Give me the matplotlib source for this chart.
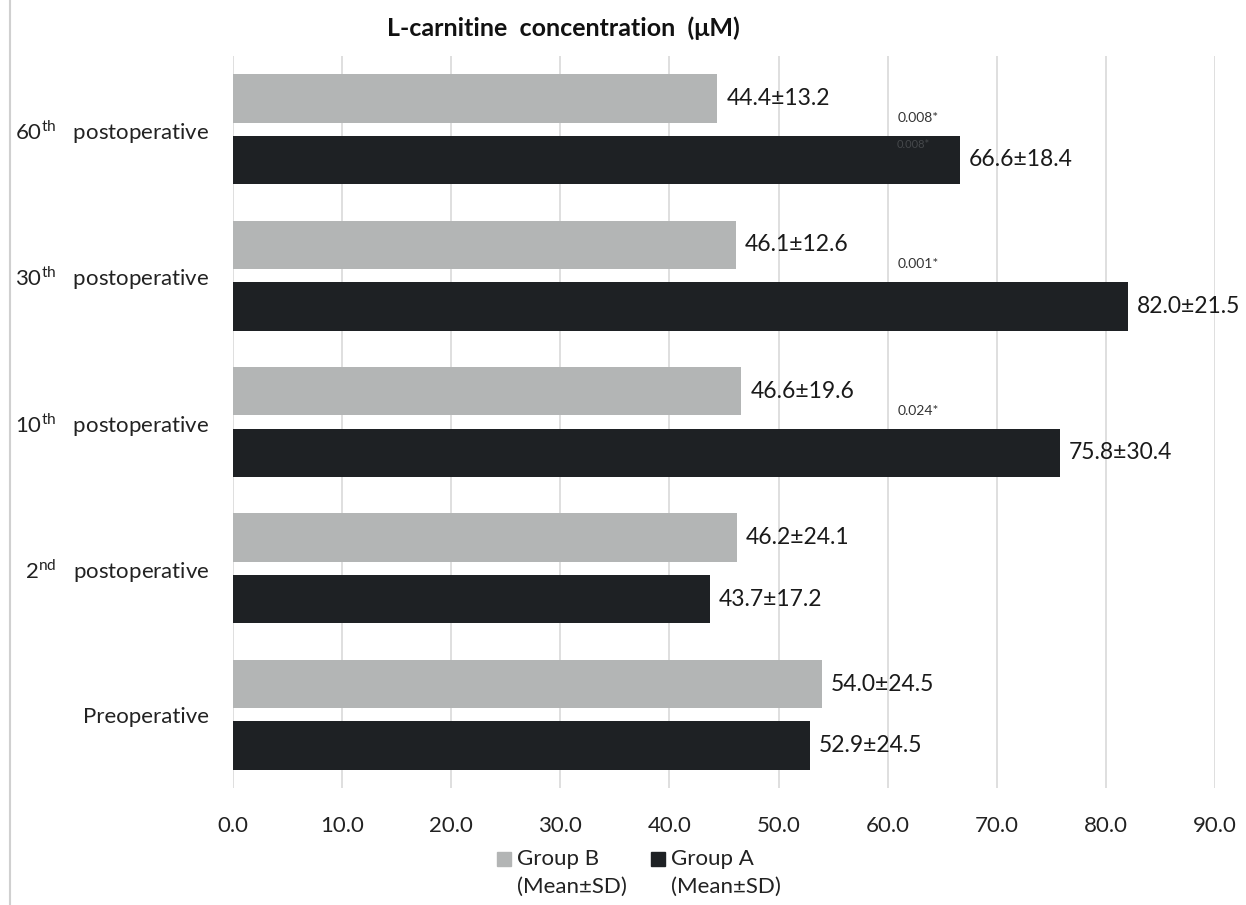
import matplotlib
matplotlib.use("Agg")
import matplotlib.pyplot as plt
import numpy as np
from matplotlib.lines import Line2D
from matplotlib.patches import Rectangle

plt.rcParams["font.family"] = ["Lato", "DejaVu Sans"]
plt.rcParams["mathtext.fontset"] = "custom"
plt.rcParams["mathtext.rm"] = "Lato"

# --- Data ---
categories = ["Preoperative", "2$^{\\mathrm{nd}}$   postoperative", "10$^{\\mathrm{th}}$   postoperative",
              "30$^{\\mathrm{th}}$   postoperative", "60$^{\\mathrm{th}}$   postoperative"]
group_b_mean = [54.0, 46.2, 46.6, 46.1, 44.4]
group_b_sd = [24.5, 24.1, 19.6, 12.6, 13.2]
group_a_mean = [52.9, 43.7, 75.8, 82.0, 66.6]
group_a_sd = [24.5, 17.2, 30.4, 21.5, 18.4]
# p-values shown above group A bars (None = not shown)
p_values = [None, None, "0.024*", "0.001*", "0.008*"]

color_b = "#b3b5b5"
color_a = "#1e2124"

W, H = 1246, 905
fig = plt.figure(figsize=(W / 100, H / 100), dpi=100)
ax = fig.add_axes([233 / W, 1 - 788 / H, (1215 - 233) / W, (788 - 56) / H])

y = np.arange(len(categories))
h = 0.33
off = 0.21
bars_b = ax.barh(y + off, group_b_mean, height=h, color=color_b, zorder=2)
bars_a = ax.barh(y - off, group_a_mean, height=h, color=color_a, zorder=2)

for bars, means, sds in [(bars_b, group_b_mean, group_b_sd), (bars_a, group_a_mean, group_a_sd)]:
    for rect, m, s in zip(bars, means, sds):
        ax.annotate(f"{m:.1f}±{s:.1f}", (rect.get_width(), rect.get_y() + rect.get_height() / 2),
                    xytext=(6.5, 0), textcoords="offset points", va="center", ha="left",
                    fontsize=16.5, color="#1a1a1a")

# p-value labels just above the group A bars
for yi, p in zip(y, p_values):
    if p is None:
        continue
    ax.text(62.8, yi - off + h / 2 + 0.08, p, fontsize=10, ha="center", va="bottom", color="#333333")
# faint duplicate drawn inside the top bar, as in the source
ax.text(62.3, y[-1] - off + h / 2 - 0.06, p_values[-1], fontsize=8, ha="center", va="center",
        color="#45484b", zorder=3)

ax.set_xlim(0, 90)
ax.set_ylim(-0.5, 4.5)
ax.set_xticks(np.arange(0, 91, 10))
ax.set_xticklabels([f"{v:.1f}" for v in np.arange(0, 91, 10)], fontsize=16, color="#222222")
ax.set_yticks(y)
ax.set_yticklabels(categories, fontsize=16, color="#222222")
ax.tick_params(axis="both", length=0)
ax.tick_params(axis="x", pad=20)
ax.tick_params(axis="y", pad=17)
ax.grid(axis="x", color="#d9d9d9", linewidth=1.2, zorder=0)
ax.set_axisbelow(True)
for sp in ax.spines.values():
    sp.set_visible(False)

fig.text(563 / W, 1 - 28 / H, "L-carnitine  concentration  (μM)", ha="center", va="center",
         fontsize=18, fontweight="bold", color="#111111")

# legend: square swatch aligned with the first line of a two-line label
legend_items = [("Group B", color_b, 497), ("Group A", color_a, 651)]
for name, col, x0 in legend_items:
    fig.add_artist(Rectangle((x0 / W, 1 - 866 / H), 14 / W, 14 / H, transform=fig.transFigure,
                             color=col))
    fig.text((x0 + 20) / W, 1 - 859 / H, name, ha="left", va="center", fontsize=16, color="#222222")
    fig.text((x0 + 20) / W, 1 - 887 / H, "(Mean±SD)", ha="left", va="center", fontsize=16,
             color="#222222")

# thin border line at the left of the figure
fig.add_artist(Line2D([10 / W, 10 / W], [0, 1], transform=fig.transFigure,
                      color="#d0d0d0", linewidth=1.5))

fig.savefig("out.png", dpi=100)
